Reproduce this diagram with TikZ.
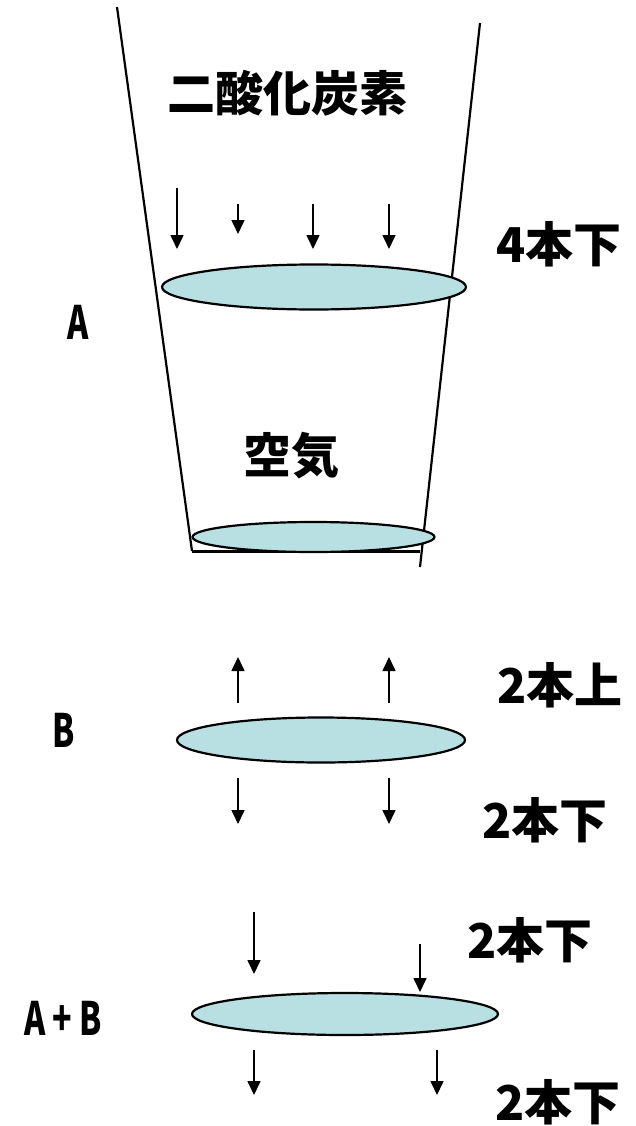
\documentclass[tikz,border=0pt]{standalone}
\usepackage{fontspec}
\newfontfamily\cjk{Noto Sans CJK JP}
\usetikzlibrary{shapes.geometric,arrows.meta}
\definecolor{discfill}{HTML}{B8E0E3}
\tikzset{
  disc/.style={ellipse, draw=black, line width=2.2pt, fill=discfill, inner sep=0pt},
  flow/.style={line width=1.6pt, -{Triangle[length=14pt,width=13pt]}},
  wall/.style={line width=2.2pt},
  big/.style={font=\cjk\bfseries\fontsize{48}{48}\selectfont, inner sep=0pt},
  tag/.style={font=\cjk\bfseries\fontsize{46}{46}\selectfont, inner sep=0pt, xscale=0.7},
}
\begin{document}
\begin{tikzpicture}[x=1pt,y=-1pt]
\useasboundingbox (0,0) rectangle (636,1126);
% cup
\coordinate (lt) at (117,7);
\coordinate (lb) at (192,551);
\coordinate (rt) at (480,23);
\coordinate (rb) at (420,567);
\coordinate (br) at (420,551);
\draw[wall] (lt) -- (lb);
\draw[wall] (rt) -- (rb);
\draw[line width=3pt] (lb) -- (br);
\node[disc, minimum width=304pt, minimum height=45pt] (d1) at (314,287) {};
\node[disc, minimum width=242pt, minimum height=30pt] (d2) at (313.5,537) {};
\node[big] (co2) at (287,93) {二酸化炭素};
\node[big] (air) at (291,456) {空気};
\node[big] (a4) at (559,244) {4本下};
\node[tag] (lA) at (78,322) {A};
% A arrows
\coordinate (a1s) at (177,188); \coordinate (a1e) at (177,249);
\coordinate (a2s) at (238,204); \coordinate (a2e) at (238,234);
\coordinate (a3s) at (313,204); \coordinate (a3e) at (313,249);
\coordinate (a4s) at (389,204); \coordinate (a4e) at (389,249);
\draw[flow] (a1s) -- (a1e);
\draw[flow] (a2s) -- (a2e);
\draw[flow] (a3s) -- (a3e);
\draw[flow] (a4s) -- (a4e);
% B
\node[disc, minimum width=288pt, minimum height=45pt] (d3) at (321,740) {};
\node[tag] (lB) at (64,730) {B};
\node[big] (b2u) at (560,685) {2本上};
\node[big] (b2d) at (545,820) {2本下};
\coordinate (b1s) at (238,703); \coordinate (b1e) at (238,657);
\coordinate (b2s) at (389,703); \coordinate (b2e) at (389,657);
\coordinate (b3s) at (238,778); \coordinate (b3e) at (238,824);
\coordinate (b4s) at (389,778); \coordinate (b4e) at (389,824);
\draw[flow] (b1s) -- (b1e);
\draw[flow] (b2s) -- (b2e);
\draw[flow] (b3s) -- (b3e);
\draw[flow] (b4s) -- (b4e);
% A+B
\node[disc, minimum width=306pt, minimum height=42pt] (d4) at (345,1014) {};
\node[tag] (lAB) at (63,1018) {A + B};
\node[big] (c2d) at (530,940) {2本下};
\node[big] (c2b) at (558,1102) {2本下};
\coordinate (c1s) at (254,912); \coordinate (c1e) at (254,974);
\coordinate (c2s) at (420,944); \coordinate (c2e) at (420,992);
\coordinate (c3s) at (254,1050); \coordinate (c3e) at (254,1095);
\coordinate (c4s) at (437,1050); \coordinate (c4e) at (437,1095);
\draw[flow] (c1s) -- (c1e);
\draw[flow] (c2s) -- (c2e);
\draw[flow] (c3s) -- (c3e);
\draw[flow] (c4s) -- (c4e);
\end{tikzpicture}
\end{document}
